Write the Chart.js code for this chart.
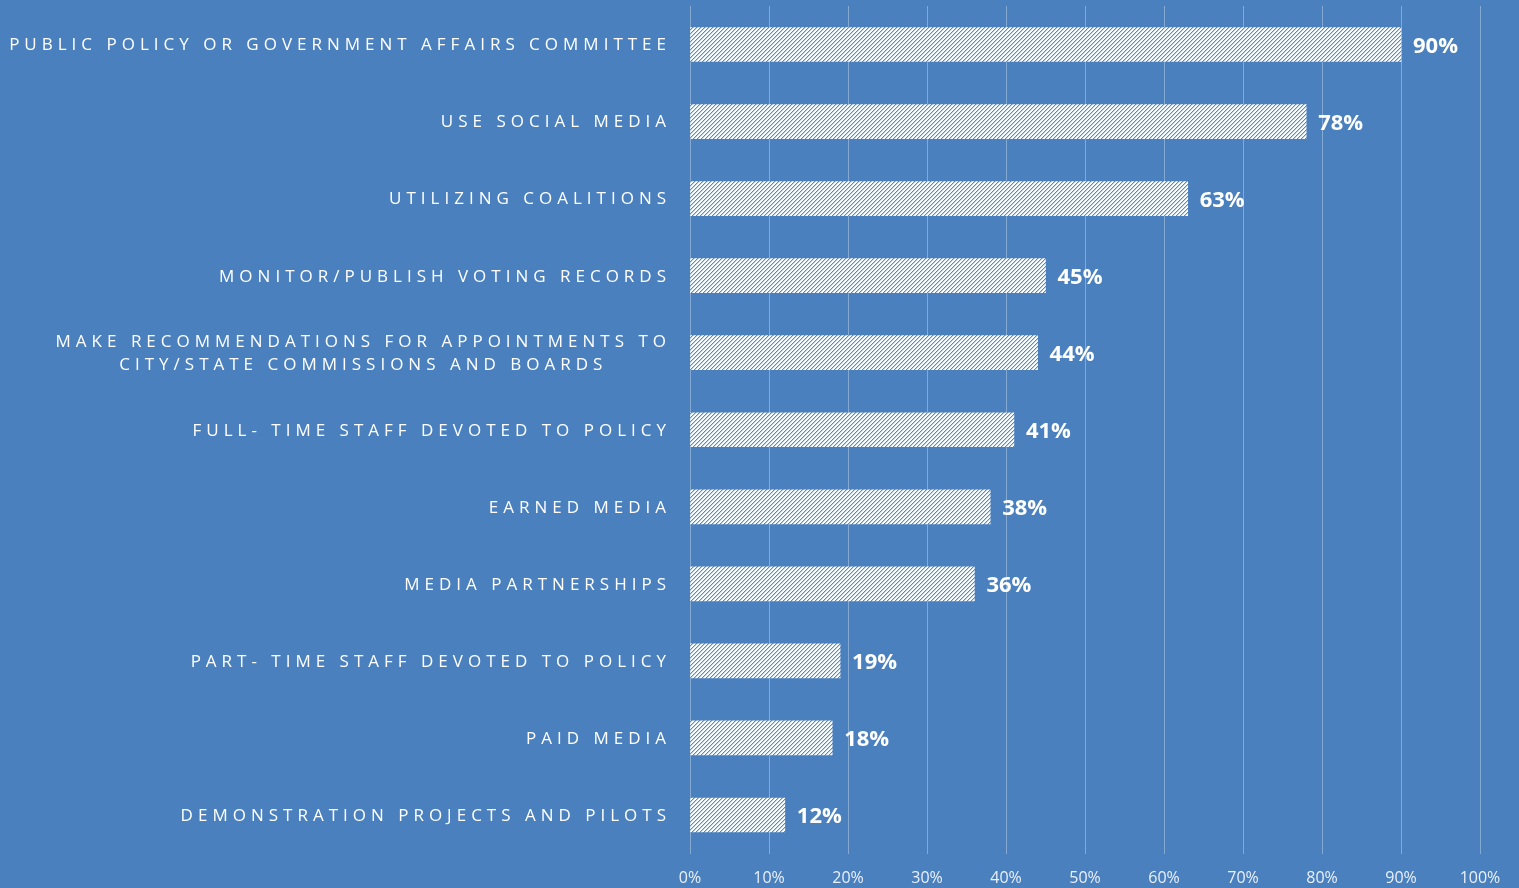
<!DOCTYPE html>
<html>
<head>
<meta charset="utf-8">
<script src="https://cdn.jsdelivr.net/npm/chart.js@4.4.1/dist/chart.umd.min.js"></script>
<style>
  html, body { margin: 0; padding: 0; background: #4a80be; }
  #wrap { width: 1519px; height: 888px; }
</style>
</head>
<body>
<div id="wrap"><canvas id="myChart" width="1519" height="888"></canvas></div>
<script>
// categories and values
const categories = [
	["PUBLIC POLICY OR GOVERNMENT AFFAIRS COMMITTEE"],
	["USE SOCIAL MEDIA"],
	["UTILIZING COALITIONS"],
	["MONITOR/PUBLISH VOTING RECORDS"],
	["MAKE RECOMMENDATIONS FOR APPOINTMENTS TO", "CITY/STATE COMMISSIONS AND BOARDS"],
	["FULL- TIME STAFF DEVOTED TO POLICY"],
	["EARNED MEDIA"],
	["MEDIA PARTNERSHIPS"],
	["PART- TIME STAFF DEVOTED TO POLICY"],
	["PAID MEDIA"],
	["DEMONSTRATION PROJECTS AND PILOTS"]
];
const percentValues = [90, 78, 63, 45, 44, 41, 38, 36, 19, 18, 12];
const xTicks = [0, 10, 20, 30, 40, 50, 60, 70, 80, 90, 100];

const bg = "#4a80be";

// diagonal hatch fill for the bars (pixel stair pattern)
function makeHatch() {
	const c = document.createElement("canvas");
	c.width = 4;
	c.height = 4;
	const g = c.getContext("2d");
	g.fillStyle = "#ffffff";
	g.fillRect(0, 0, 4, 4);
	g.fillStyle = "#5a8bc9";
	for (let i = 0; i < 4; i++) {
		g.fillRect(3 - i, i, 1, 1);
	}
	g.fillStyle = "rgba(90, 139, 201, 0.4)";
	for (let i = 0; i < 4; i++) {
		g.fillRect((4 - i) % 4, i, 1, 1);
	}
	return g.createPattern(c, "repeat");
}

// category labels with wide letter spacing
const spacedLabels = {
	id: "spacedLabels",
	afterDraw(chart) {
		const ctx = chart.ctx;
		const y = chart.scales.y;
		const sp = 5.0;
		ctx.save();
		ctx.font = "17px 'Open Sans'";
		ctx.fillStyle = "#ffffff";
		ctx.textBaseline = "middle";
		ctx.letterSpacing = sp + "px";
		categories.forEach((lines, i) => {
			const cy = y.getPixelForValue(i) + 1;
			if (lines.length === 1) {
				ctx.textAlign = "right";
				ctx.fillText(lines[0], 666 + sp, cy);
				return;
			}
			// wrapped label: lines centred on the first line
			ctx.textAlign = "left";
			const w0 = ctx.measureText(lines[0]).width - sp;
			const mid = 666 - w0 / 2;
			const lh = 23;
			lines.forEach((t, j) => {
				const w = ctx.measureText(t).width - sp;
				const off = (j - (lines.length - 1) / 2) * lh;
				ctx.fillText(t, mid - w / 2, cy + off);
			});
		});
		ctx.restore();
	}
};

// value labels at bar ends
const valueLabels = {
	id: "valueLabels",
	afterDatasetsDraw(chart) {
		const ctx = chart.ctx;
		const meta = chart.getDatasetMeta(0);
		ctx.save();
		ctx.font = "bold 22px 'Open Sans'";
		ctx.fillStyle = "#ffffff";
		ctx.textAlign = "left";
		ctx.textBaseline = "middle";
		meta.data.forEach((bar, i) => {
			ctx.fillText(percentValues[i] + "%", bar.x + 12, bar.y + 2);
		});
		ctx.restore();
	}
};

const ctx = document.getElementById("myChart").getContext("2d");
const myChart = new Chart(ctx, {
	type: "bar",
	data: {
		labels: categories,
		datasets: [
			{
				data: percentValues,
				backgroundColor: makeHatch(),
				borderWidth: 0,
				barThickness: 34,
			},
		],
	},
	options: {
		indexAxis: "y",
		responsive: false,
		animation: false,
		layout: {
			padding: { top: 6, right: 39, left: 0, bottom: 0 },
		},
		plugins: {
			legend: { display: false },
			tooltip: { enabled: false },
		},
		scales: {
			x: {
				min: 0,
				max: 100,
				afterBuildTicks: (scale) => {
					scale.ticks = xTicks.map(v => ({ value: v }));
				},
				afterFit: (scale) => {
					scale.height = 34.5;
				},
				border: { display: false },
				grid: {
					color: "rgba(255, 255, 255, 0.32)",
					lineWidth: 1,
					drawTicks: false,
				},
				ticks: {
					color: "#eaf0f8",
					padding: 15,
					font: { size: 16, family: "'Open Sans'" },
					callback: (v) => v + "%",
				},
			},
			y: {
				afterFit: (scale) => {
					scale.width = 690;
				},
				border: { display: false },
				grid: { display: false },
				ticks: { display: false },
			},
		},
	},
	plugins: [
		{
			id: "bg",
			beforeDraw(chart) {
				const c = chart.ctx;
				c.save();
				c.fillStyle = bg;
				c.fillRect(0, 0, chart.width, chart.height);
				c.restore();
			},
		},
		spacedLabels,
		valueLabels,
	],
});
</script>
</body>
</html>
